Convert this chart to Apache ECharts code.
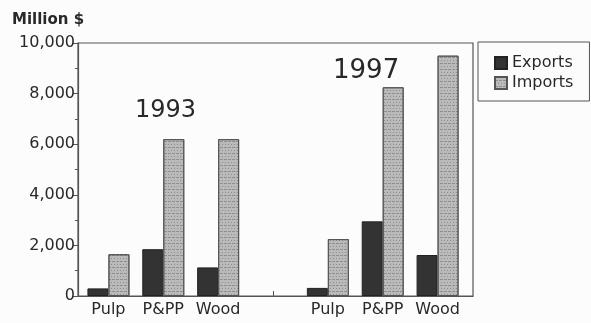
<!DOCTYPE html>
<html>
<head>
<meta charset="utf-8">
<script src="https://cdn.jsdelivr.net/npm/echarts@6/dist/echarts.min.js"></script>
<style>
  html, body { margin: 0; padding: 0; background: #fcfcfc; }
  #chart { width: 591px; height: 323px; }
</style>
</head>
<body>
<div id="chart"></div>
<script>
// Forest products trade, million dollars
const categories = ['Pulp', 'P&PP', 'Wood', '', 'Pulp', 'P&PP', 'Wood'];
const exportsData = [300, 1850, 1130, null, 320, 2950, 1620];
const importsData = [1650, 6200, 6200, null, 2250, 8250, 9500];
const yearLabels = ['1993', '1997'];
const yTicks = [0, 2000, 4000, 6000, 8000, 10000];

const font = '"DejaVu Sans", sans-serif';
const ink = '#282828';

const chart = echarts.init(document.getElementById('chart'), null, { renderer: 'canvas' });

chart.setOption({
  backgroundColor: '#fcfcfc',
  animation: false,
  textStyle: { fontFamily: font, color: ink },
  legend: {
    orient: 'vertical',
    left: 478,
    top: 42,
    width: 112,
    padding: [13, 16, 10, 16],
    itemGap: 4,
    itemWidth: 12,
    itemHeight: 12,
    borderColor: '#555',
    borderWidth: 1,
    icon: 'rect',
    textStyle: { fontFamily: font, fontSize: 16, color: ink },
    data: ['Exports', 'Imports']
  },
  graphic: [
    { type: 'text', left: 135, top: 99,
      style: { text: yearLabels[0], font: '24px ' + font, fill: ink } },
    { type: 'text', left: 333, top: 58,
      style: { text: yearLabels[1], font: '26px ' + font, fill: ink } },
    { type: 'text', left: 12, top: 13,
      style: { text: 'Million $', font: 'bold 15px ' + font, fill: ink } }
  ],
  grid: [
    // frame with the value axis
    { left: 78, right: 118, top: 43, bottom: 27, show: true, borderColor: '#555', borderWidth: 1.2, backgroundColor: 'transparent' },
    // bar area
    { left: 81, right: 126, top: 43, bottom: 27 }
  ],
  xAxis: [
    { type: 'category', gridIndex: 0, data: ['a', 'b'], axisLabel: { show: false },
      axisLine: { show: true, lineStyle: { color: '#555', width: 1.2 } },
      axisTick: { show: false } },
    { type: 'category', gridIndex: 1, data: categories,
      axisLine: { show: false },
      axisTick: { show: true, inside: true, length: 5, alignWithLabel: true,
        interval: (i) => i === 3, lineStyle: { color: '#555' } },
      axisLabel: { fontSize: 16, color: ink, margin: 6, interval: 0, fontFamily: font } }
  ],
  yAxis: [
    { type: 'value', gridIndex: 0, min: 0, max: 10000, interval: 2000,
      axisLine: { show: true, lineStyle: { color: '#555', width: 1.2 } },
      axisTick: { show: true, length: 5, lineStyle: { color: '#555' } },
      minorTick: { show: true, splitNumber: 2, length: 3, lineStyle: { color: '#555' } },
      splitLine: { show: false },
      axisLabel: { fontSize: 16, color: ink, margin: 3, fontFamily: font,
        formatter: (v) => yTicks.includes(v) ? v.toLocaleString('en-US') : '' } },
    { type: 'value', gridIndex: 1, min: 0, max: 10000, show: false, splitLine: { show: false } }
  ],
  series: [
    { name: 'Exports', type: 'bar', xAxisIndex: 1, yAxisIndex: 1,
      data: exportsData, barWidth: 21, barGap: '0%',
      itemStyle: { color: '#333', borderColor: '#222', borderWidth: 1 } },
    { name: 'Imports', type: 'bar', xAxisIndex: 1, yAxisIndex: 1,
      data: importsData, barWidth: 21, barGap: '0%',
      itemStyle: { color: '#bababa', borderColor: '#555', borderWidth: 1,
        decal: { symbol: 'rect', dashArrayX: [[3, 1], [1, 2]], dashArrayY: [1, 2],
          color: 'rgba(80,80,80,0.4)', symbolSize: 1, rotation: 0 } } }
  ]
});
</script>
</body>
</html>
